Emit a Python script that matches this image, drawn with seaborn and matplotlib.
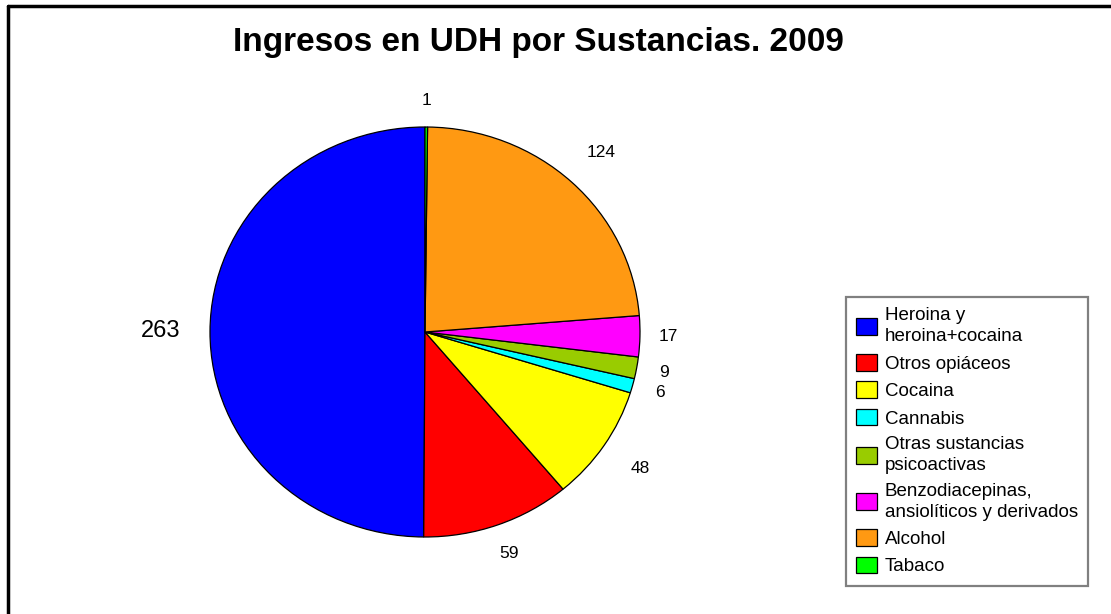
import matplotlib
matplotlib.use("Agg")
import matplotlib.pyplot as plt
from matplotlib.lines import Line2D
import seaborn as sns
import numpy as np

sns.set_theme(style="white")
plt.rcParams["font.family"] = ["Liberation Sans", "DejaVu Sans"]
plt.rcParams["text.color"] = "black"

sustancias = ["Heroina y\nheroina+cocaina", "Otros opiáceos", "Cocaina", "Cannabis",
              "Otras sustancias\npsicoactivas", "Benzodiacepinas,\nansiolíticos y derivados",
              "Alcohol", "Tabaco"]
ingresos = [263, 59, 48, 6, 9, 17, 124, 1]
colores = ["#0000FF", "#FF0000", "#FFFF00", "#00FFFF", "#99CC00", "#FF00FF", "#FF9912", "#00FF00"]

fig = plt.figure(figsize=(11.11, 6.14), dpi=100)
ax = fig.add_axes([156.25 / 1111, 25.75 / 614, 537.5 / 1111, 512.5 / 614])

wedges, _ = ax.pie(ingresos, colors=colores, startangle=90, counterclock=True,
                   wedgeprops=dict(edgecolor="black", linewidth=0.9))
ax.set_aspect("auto")
ax.set_xlim(-1.25, 1.25)
ax.set_ylim(-1.25, 1.25)

# etiquetas de valor alrededor de la tarta
dist_extra = {263: 1.23, 124: 1.2, 48: 1.2, 59: 1.15}
for w, v in zip(wedges, ingresos):
    ang = np.deg2rad((w.theta1 + w.theta2) / 2)
    r = dist_extra.get(v, 1.13)
    ax.text(r * np.cos(ang), r * np.sin(ang), str(v), ha="center", va="center",
            fontsize=17 if v == 263 else 12.5, color="black")

fig.text(538 / 1111, 1 - 42 / 614, "Ingresos en UDH por Sustancias. 2009",
         ha="center", va="center", fontsize=24, fontweight="bold", color="black")

leg = fig.legend(wedges, sustancias, loc="upper left",
                 bbox_to_anchor=(846 / 1111, 1 - 297 / 614),
                 fontsize=13.5, frameon=True, fancybox=False, framealpha=1,
                 edgecolor="#808080", handlelength=1.12, handleheight=1.0,
                 handletextpad=0.4, labelspacing=0.46, borderpad=0.55,
                 borderaxespad=0)
leg.get_frame().set_linewidth(1.6)
for t in leg.get_texts():
    t.set_linespacing(1.3)

# marco exterior del grafico
fig.add_artist(Line2D([8 / 1111, 8 / 1111], [0, 1 - 6 / 614], color="black", lw=2.5))
fig.add_artist(Line2D([8 / 1111, 1], [1 - 6 / 614, 1 - 6 / 614], color="black", lw=2.5))

fig.savefig("out.png", dpi=100, facecolor="white")
